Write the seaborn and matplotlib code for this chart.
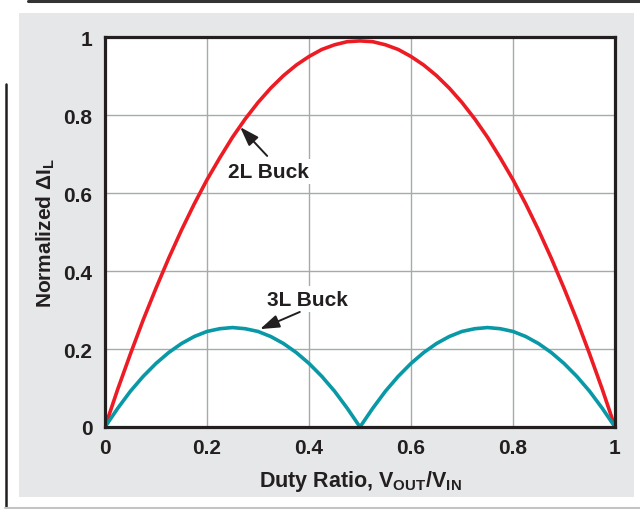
import numpy as np
import pandas as pd
import matplotlib.pyplot as plt
import seaborn as sns
from matplotlib.patches import Rectangle
from matplotlib.lines import Line2D

# ---------------------------------------------------------
# Data
# ---------------------------------------------------------

duty = [0.000, 0.025, 0.050, 0.075, 0.100, 0.125, 0.150, 0.175, 0.200, 0.225,
        0.250, 0.275, 0.300, 0.325, 0.350, 0.375, 0.400, 0.425, 0.450, 0.475,
        0.500, 0.525, 0.550, 0.575, 0.600, 0.625, 0.650, 0.675, 0.700, 0.725,
        0.750, 0.775, 0.800, 0.825, 0.850, 0.875, 0.900, 0.925, 0.950, 0.975,
        1.000]

buck_2l = [0.000, 0.097, 0.188, 0.275, 0.356, 0.433, 0.505, 0.572, 0.634, 0.690,
           0.743, 0.790, 0.832, 0.869, 0.901, 0.928, 0.950, 0.968, 0.980, 0.988,
           0.990, 0.988, 0.980, 0.968, 0.950, 0.928, 0.901, 0.869, 0.832, 0.790,
           0.743, 0.690, 0.634, 0.572, 0.505, 0.433, 0.356, 0.275, 0.188, 0.097,
           0.000]

buck_3l = [0.000, 0.048, 0.092, 0.130, 0.163, 0.191, 0.214, 0.232, 0.245, 0.252,
           0.255, 0.252, 0.245, 0.232, 0.214, 0.191, 0.163, 0.130, 0.092, 0.048,
           0.000, 0.048, 0.092, 0.130, 0.163, 0.191, 0.214, 0.232, 0.245, 0.252,
           0.255, 0.252, 0.245, 0.232, 0.214, 0.191, 0.163, 0.130, 0.092, 0.048,
           0.000]

ticks = [0, 0.2, 0.4, 0.6, 0.8, 1]
tick_labels = ["0", "0.2", "0.4", "0.6", "0.8", "1"]

RED = "#ed1c24"
TEAL = "#0898a6"
PANEL = "#e6e7e8"
INK = "#231f20"

df = pd.DataFrame({
    "duty": duty * 2,
    "ripple": buck_2l + buck_3l,
    "topology": ["2L Buck"] * len(duty) + ["3L Buck"] * len(duty),
})

# ---------------------------------------------------------
# Style
# ---------------------------------------------------------

sns.set_style("white")
plt.rcParams["font.family"] = ["Liberation Sans", "DejaVu Sans"]
plt.rcParams["font.weight"] = "bold"
plt.rcParams["mathtext.fontset"] = "custom"
plt.rcParams["mathtext.rm"] = "Liberation Sans:bold"
plt.rcParams["mathtext.it"] = "Liberation Sans:bold"
plt.rcParams["mathtext.bf"] = "Liberation Sans:bold"

FS = 15

fig = plt.figure(figsize=(6.4, 5.1), dpi=100, facecolor="white")

# gray panel and page decorations
W, H = 640, 510
fig.patches.append(Rectangle((19 / W, 1 - 498 / H), (634 - 19) / W, (498 - 14) / H,
                             transform=fig.transFigure, facecolor=PANEL,
                             edgecolor="none", zorder=-5))
fig.lines.append(Line2D([28 / W, 1], [1 - 1.5 / H, 1 - 1.5 / H], transform=fig.transFigure,
                        color="#333333", lw=2.2, zorder=-5))
fig.lines.append(Line2D([5.5 / W, 5.5 / W], [1 - 85 / H, 0], transform=fig.transFigure,
                        color=INK, lw=1.8, zorder=-5))
fig.lines.append(Line2D([5 / W, 1], [1 - 508.5 / H, 1 - 508.5 / H], transform=fig.transFigure,
                        color="#c4c4c4", lw=1.5, zorder=-5))

ax = fig.add_axes([105 / W, 1 - 428 / H, (615 - 105) / W, (428 - 38) / H])
ax.set_zorder(2)
ax.set_facecolor("white")

sns.lineplot(data=df, x="duty", y="ripple", hue="topology",
             palette={"2L Buck": RED, "3L Buck": TEAL},
             linewidth=2.6, legend=False, ax=ax, zorder=3)

ax.set_xlim(0, 1)
ax.set_ylim(0, 1)
ax.set_xticks(ticks)
ax.set_xticklabels(tick_labels)
ax.set_yticks(ticks)
ax.set_yticklabels(tick_labels)
ax.tick_params(length=0, labelsize=FS, labelcolor=INK)
ax.tick_params(axis="x", pad=8)
ax.tick_params(axis="y", pad=9)
for lbl in ax.get_xticklabels() + ax.get_yticklabels():
    lbl.set_fontweight("bold")

ax.grid(True, color="#a7a9ac", linewidth=1)
for sp in ax.spines.values():
    sp.set_color(INK)
    sp.set_linewidth(2.3)
    sp.set_zorder(5)

ax.set_xlabel(r"Duty Ratio, V$_{\mathrm{OUT}}$/V$_{\mathrm{IN}}$",
              fontsize=15.5, fontweight="bold", color=INK, labelpad=8)
ax.set_ylabel(r"Normalized ΔI$_{\mathrm{L}}$",
              fontsize=FS, fontweight="bold", color=INK, labelpad=5)

# annotations: labels with white boxes, arrows drawn separately
arrow = dict(arrowstyle="-|>,head_length=0.65,head_width=0.22", color=INK, lw=1.4,
             shrinkA=0, shrinkB=0, mutation_scale=18)
box = dict(boxstyle="square,pad=0.15", fc="white", ec="none")

ax.text(0.32, 0.656, "2L Buck", ha="center", va="center", fontsize=FS,
        fontweight="bold", color=INK, bbox=box, zorder=6)
ax.annotate("", xy=(0.265, 0.769), xytext=(0.318, 0.695), arrowprops=arrow, zorder=7)

ax.text(0.396, 0.328, "3L Buck", ha="center", va="center", fontsize=FS,
        fontweight="bold", color=INK, bbox=box, zorder=6)
ax.annotate("", xy=(0.304, 0.251), xytext=(0.382, 0.295), arrowprops=arrow, zorder=7)

fig.savefig("out.png", dpi=100, facecolor="white")
